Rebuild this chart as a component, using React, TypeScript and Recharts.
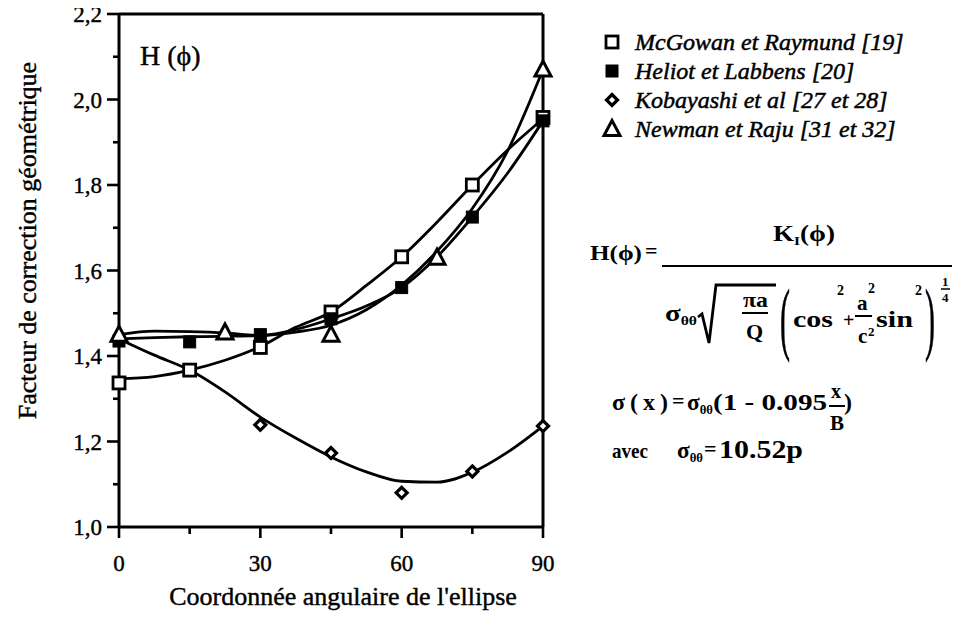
import React from 'react';
import { ComposedChart, Line, Scatter, XAxis, YAxis, ReferenceLine } from 'recharts';

// ---- data ----
const mcgowanX = [0, 15, 30, 45, 60, 75, 90];
const mcgowanY = [1.337, 1.367, 1.42, 1.503, 1.632, 1.8, 1.958];

const heliotX = [0, 15, 30, 45, 60, 75, 90];
const heliotY = [1.435, 1.433, 1.45, 1.487, 1.56, 1.725, 1.95];

const kobayashiX = [0, 30, 45, 60, 75, 90];
const kobayashiY = [1.437, 1.239, 1.173, 1.08, 1.13, 1.236];

const newmanX = [0, 22.5, 45, 67.5, 90];
const newmanY = [1.45, 1.455, 1.45, 1.63, 2.07];

// fitted curves
const curveX = [0, 7.5, 15, 22.5, 30, 37.5, 45, 52.5, 60, 67.5, 75, 82.5, 90];
const mcgowanCurve = [1.347, 1.352, 1.367, 1.39, 1.422, 1.467, 1.503, 1.565, 1.632, 1.713, 1.8, 1.882, 1.955];
const heliotCurve = [1.44, 1.443, 1.445, 1.446, 1.448, 1.462, 1.487, 1.517, 1.56, 1.632, 1.725, 1.828, 1.95];
const newmanCurve = [1.45, 1.458, 1.457, 1.454, 1.448, 1.456, 1.472, 1.508, 1.566, 1.645, 1.745, 1.88, 2.07];
const kobayashiCurve = [1.44, 1.402, 1.367, 1.316, 1.257, 1.208, 1.164, 1.129, 1.107, 1.105, 1.128, 1.175, 1.236];

const xTicks = [0, 15, 30, 45, 60, 75, 90];
const xLabelTicks = [0, 30, 60, 90];
const yTicks = [1.0, 1.1, 1.2, 1.3, 1.4, 1.5, 1.6, 1.7, 1.8, 1.9, 2.0, 2.1, 2.2];

const legendNames = [
  'McGowan et Raymund [19]',
  'Heliot et Labbens [20]',
  'Kobayashi et al [27 et 28]',
  'Newman et Raju [31 et 32]',
];

const xTitle = "Coordonnée angulaire de l'ellipse";
const yTitle = 'Facteur de correction géométrique';

const toPts = (xs: number[], ys: number[]) => xs.map((x, i) => ({ x, y: ys[i] }));

const SERIF = '"Liberation Serif", "Times New Roman", serif';

// ---- marker shapes ----
const OpenSquare = (p: any) => (
  <rect x={p.cx - 6} y={p.cy - 6} width={12} height={12} fill="#fff" stroke="#000" strokeWidth={2.8} />
);
const FilledSquare = (p: any) => (
  <rect x={p.cx - 6} y={p.cy - 6} width={12} height={12} fill="#000" stroke="#000" strokeWidth={1} />
);
const Diamond = (p: any) => (
  <path d={`M${p.cx},${p.cy - 5.5}L${p.cx + 5.5},${p.cy}L${p.cx},${p.cy + 5.5}L${p.cx - 5.5},${p.cy}Z`} fill="#fff" stroke="#000" strokeWidth={3.2} />
);
const Triangle = (p: any) => (
  <path d={`M${p.cx},${p.cy - 8.5}L${p.cx + 8},${p.cy + 6.5}L${p.cx - 8},${p.cy + 6.5}Z`} fill="#fff" stroke="#000" strokeWidth={3} strokeLinejoin="miter" />
);

const legendShapes = [OpenSquare, FilledSquare, Diamond, Triangle];

const YTick = (props: any) => {
  const { x, y, payload } = props;
  const v = payload.value as number;
  const major = Math.round(v * 10) % 2 === 0;
  return (
    <g>
      <line x1={x + (major ? 5 : 11)} x2={x + 17} y1={y} y2={y} stroke="#000" strokeWidth={2.6} />
      {major && (
        <text x={x} y={y} dy="0.36em" textAnchor="end" fontSize={23} fontFamily={SERIF} fill="#000" stroke="#000" strokeWidth={0.4}>
          {v.toFixed(1).replace('.', ',')}
        </text>
      )}
    </g>
  );
};

const XTick = (props: any) => {
  const { x, y, payload } = props;
  const v = payload.value as number;
  const major = xLabelTicks.includes(v);
  return (
    <g>
      <line x1={x} x2={x} y1={y - 28} y2={y - 28 + (major ? 11 : 7)} stroke="#000" strokeWidth={2.6} />
      {major && (
        <text x={x} y={y} dy="0.71em" textAnchor="middle" fontSize={23} fontFamily={SERIF} fill="#000" stroke="#000" strokeWidth={0.4}>
          {v}
        </text>
      )}
    </g>
  );
};

const XLabel = (props: any) => {
  const vb = props.viewBox || { x: 119, y: 527, width: 424, height: 85 };
  return (
    <text x={vb.x + vb.width / 2 + 12} y={vb.y + 78} textAnchor="middle" fontSize={26} fontFamily={SERIF} fill="#000" stroke="#000" strokeWidth={0.4}>
      {xTitle}
    </text>
  );
};

const YLabel = (props: any) => {
  const vb = props.viewBox || { x: 0, y: 14, width: 119, height: 513 };
  const cx = vb.x + 27;
  const cy = vb.y + vb.height / 2 - 30;
  return (
    <text x={cx} y={cy} transform={`rotate(-90 ${cx} ${cy})`} textAnchor="middle" dominantBaseline="central" fontSize={26} fontFamily={SERIF} fill="#000" stroke="#000" strokeWidth={0.4}>
      {yTitle}
    </text>
  );
};

const W = 952;
const H = 612;

export default function App() {
  const fm = { fontFamily: SERIF, fontWeight: 700 as const, fill: '#000' };
  const sg = 'spacingAndGlyphs' as const;
  const paren = { fontFamily: SERIF, fontWeight: 400 as const, fill: '#000', stroke: '#000', strokeWidth: 0.3 };
  return (
    <div style={{ position: 'relative', width: W, height: H, marginTop: -8, marginLeft: -8, background: '#fff' }}>
      <ComposedChart width={W} height={H} margin={{ top: 14, right: 409, bottom: 0, left: 0 }}>
        <XAxis
          dataKey="x"
          type="number"
          domain={[0, 90]}
          ticks={xTicks}
          interval={0}
          tickSize={10}
          tickMargin={18}
          tickLine={false}
          axisLine={{ stroke: '#000', strokeWidth: 3 }}
          tick={<XTick />}
          height={85}
          label={<XLabel />}
        />
        <YAxis
          type="number"
          domain={[1, 2.2]}
          ticks={yTicks}
          interval={0}
          tickSize={12}
          tickMargin={5}
          tickLine={false}
          axisLine={{ stroke: '#000', strokeWidth: 3 }}
          tick={<YTick />}
          width={119}
          label={<YLabel />}
        />
        <ReferenceLine y={2.2} stroke="#000" strokeWidth={3} />
        <ReferenceLine x={90} stroke="#000" strokeWidth={3} />

        <Line data={toPts(curveX, mcgowanCurve)} dataKey="y" type="monotone" stroke="#000" strokeWidth={2.8} dot={false} isAnimationActive={false} />
        <Line data={toPts(curveX, heliotCurve)} dataKey="y" type="monotone" stroke="#000" strokeWidth={2.8} dot={false} isAnimationActive={false} />
        <Line data={toPts(curveX, newmanCurve)} dataKey="y" type="monotone" stroke="#000" strokeWidth={2.8} dot={false} isAnimationActive={false} />
        <Line data={toPts(curveX, kobayashiCurve)} dataKey="y" type="monotone" stroke="#000" strokeWidth={2.8} dot={false} isAnimationActive={false} />

        <Scatter data={toPts(kobayashiX, kobayashiY)} dataKey="y" shape={Diamond} isAnimationActive={false} />
        <Scatter data={toPts(mcgowanX, mcgowanY)} dataKey="y" shape={OpenSquare} isAnimationActive={false} />
        <Scatter data={toPts(heliotX, heliotY)} dataKey="y" shape={FilledSquare} isAnimationActive={false} />
        <Scatter data={toPts(newmanX, newmanY)} dataKey="y" shape={Triangle} isAnimationActive={false} />
      </ComposedChart>

      <svg width={W} height={H} style={{ position: 'absolute', left: 0, top: 0, pointerEvents: 'none' }}>
        {/* in-plot title */}
        <text x={140} y={65} fontSize={28} fontFamily={SERIF} fill="#000" stroke="#000" strokeWidth={0.4}>H (ϕ)</text>

        {/* legend */}
        {legendNames.map((name, i) => {
          const Shape = legendShapes[i];
          const cy = 42 + i * 29;
          return (
            <g key={name}>
              <Shape cx={612} cy={cy} />
              <text x={635} y={cy} dy="0.34em" fontSize={24} fontStyle="italic" fontFamily={SERIF} fill="#000" stroke="#000" strokeWidth={0.5}>{name}</text>
            </g>
          );
        })}

        {/* formula */}
        <text x={590} y={260} fontSize={22} textLength={52} lengthAdjust={sg} {...fm}>H(ϕ)</text>
        <text x={645} y={258} fontSize={22} {...fm}>=</text>
        <line x1={662} x2={957} y1={266} y2={266} stroke="#000" strokeWidth={2} />
        <text x={773} y={241} fontSize={23} textLength={62} lengthAdjust={sg} {...fm}>K<tspan fontSize={13} dy={4}>I</tspan><tspan dy={-4}>(ϕ)</tspan></text>

        <text x={665} y={321} fontSize={24} textLength={32} lengthAdjust={sg} {...fm}>σ<tspan fontSize={13} dy={4}>θθ</tspan></text>
        <path d="M698,317 L702,314 L709,343 L716,285 L776,285" fill="none" stroke="#000" strokeWidth={2.8} strokeLinejoin="miter" />
        <text x={743} y={307} fontSize={21} textLength={25} lengthAdjust={sg} {...fm}>πa</text>
        <line x1={742} x2={768} y1={313} y2={313} stroke="#000" strokeWidth={2} />
        <text x={746} y={339} fontSize={22} {...fm}>Q</text>

        <text transform="translate(780,345) scale(1,2.7)" fontSize={30} {...paren}>(</text>
        <text x={793} y={327} fontSize={24} textLength={40} lengthAdjust={sg} {...fm}>cos</text>
        <text x={837} y={295} fontSize={14} {...fm}>2</text>
        <text x={843} y={327} fontSize={20} {...fm}>+</text>
        <text x={857} y={310} fontSize={21} {...fm}>a</text>
        <text x={868} y={293} fontSize={14} {...fm}>2</text>
        <line x1={855} x2={872} y1={316} y2={316} stroke="#000" strokeWidth={2} />
        <text x={858} y={343} fontSize={21} {...fm}>c</text>
        <text x={868} y={336} fontSize={13} {...fm}>2</text>
        <text x={876} y={327} fontSize={24} textLength={37} lengthAdjust={sg} {...fm}>sin</text>
        <text x={915} y={295} fontSize={14} {...fm}>2</text>
        <text transform="translate(925,345) scale(1,2.7)" fontSize={30} {...paren}>)</text>
        <text x={942} y={286} fontSize={13} {...fm}>1</text>
        <line x1={941} x2={950} y1={289} y2={289} stroke="#000" strokeWidth={1.5} />
        <text x={942} y={302} fontSize={13} {...fm}>4</text>

        <text x={612} y={410} fontSize={24} textLength={56} {...fm}>σ(x)</text>
        <text x={672} y={408} fontSize={22} {...fm}>=</text>
        <text x={687} y={410} fontSize={24} textLength={26} lengthAdjust={sg} {...fm}>σ<tspan fontSize={13} dy={4}>θθ</tspan></text>
        <text x={713} y={410} fontSize={24} textLength={114} lengthAdjust={sg} {...fm}>(1 - 0.095</text>
        <text x={831} y={398} fontSize={20} {...fm}>x</text>
        <line x1={829} x2={845} y1={406} y2={406} stroke="#000" strokeWidth={2} />
        <text x={830} y={430} fontSize={21} {...fm}>B</text>
        <text x={844} y={410} fontSize={24} {...fm}>)</text>

        <text x={612} y={458} fontSize={21} textLength={36} lengthAdjust={sg} {...fm}>avec</text>
        <text x={677} y={458} fontSize={24} textLength={26} lengthAdjust={sg} {...fm}>σ<tspan fontSize={13} dy={4}>θθ</tspan></text>
        <text x={704} y={456} fontSize={22} {...fm}>=</text>
        <text x={719} y={458} fontSize={25} textLength={84} lengthAdjust={sg} {...fm}>10.52p</text>
      </svg>
    </div>
  );
}
